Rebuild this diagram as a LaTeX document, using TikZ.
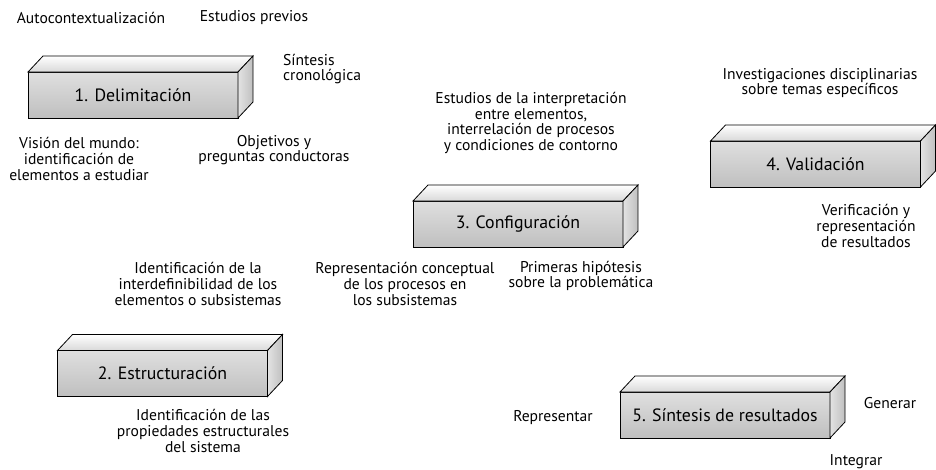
\documentclass[tikz,border=0pt]{standalone}
\usepackage{fontspec}
\setmainfont{PT Sans}
\usetikzlibrary{calc}
\begin{document}
\begin{tikzpicture}[x=1pt,y=-1pt,
  box/.style={draw, line width=0.8pt, outer sep=0pt, minimum width=210pt, minimum height=46pt, inner sep=0pt, top color=gray!25, bottom color=gray!50, font=\fontsize{17.8}{20}\selectfont},
  lbl/.style={align=center, font=\fontsize{15.6}{15.6}\selectfont, inner sep=0pt},
  topface/.style={draw, line width=0.8pt, top color=white, bottom color=gray!30},
  sideface/.style={draw, line width=0.8pt, left color=gray!22, right color=gray!50},
]
\useasboundingbox (0,0) rectangle (936,469);
\node[box] (b1) at (133,95) {1. Delimitación};
\node[box] (b2) at (162.5,373.5) {2. Estructuración};
\node[box] (b3) at (518,224) {3. Configuración};
\node[box] (b4) at (815.5,164) {4. Validación};
\node[box] (b5) at (725,415) {5. Síntesis de resultados};
\foreach \b in {b1,b2,b3,b4,b5} {
  \draw[topface] (\b.north west) -- ++(15,-16) -- ($(\b.north east)+(15,-16)$) -- (\b.north east) -- cycle;
  \draw[sideface] (\b.north east) -- ++(15,-16) -- ($(\b.south east)+(15,-16)$) -- (\b.south east) -- cycle;
}
\node[lbl] (t1) at (91,18) {Autocontextualización};
\node[lbl] (t2) at (254,18) {Estudios previos};
\node[lbl, align=left, anchor=west] (t3) at (283,69) {Síntesis\\cronológica};
\node[lbl] (t4) at (79,159) {Visión del mundo:\\identificación de\\elementos a estudiar};
\node[lbl] (t5) at (274,150) {Objetivos y\\preguntas conductoras};
\node[lbl] (t6) at (531,123) {Estudios de la interpretación\\entre elementos,\\interrelación de procesos\\y condiciones de contorno};
\node[lbl] (t7) at (820,83) {Investigaciones disciplinarias\\sobre temas específicos};
\node[lbl] (t8) at (866,226) {Verificación y\\representación\\de resultados};
\node[lbl] (t9) at (198,284) {Identificación de la\\interdefinibilidad de los\\elementos o subsistemas};
\node[lbl] (t10) at (405,284) {Representación conceptual\\de los procesos en\\los subsistemas};
\node[lbl] (t11) at (581,276) {Primeras hipótesis\\sobre la problemática};
\node[lbl] (t12) at (203,431) {Identificación de las\\propiedades estructurales\\del sistema};
\node[lbl] (t13) at (553,418) {Representar};
\node[lbl] (t14) at (890,403) {Generar};
\node[lbl] (t15) at (856,462) {Integrar};
\end{tikzpicture}
\end{document}
